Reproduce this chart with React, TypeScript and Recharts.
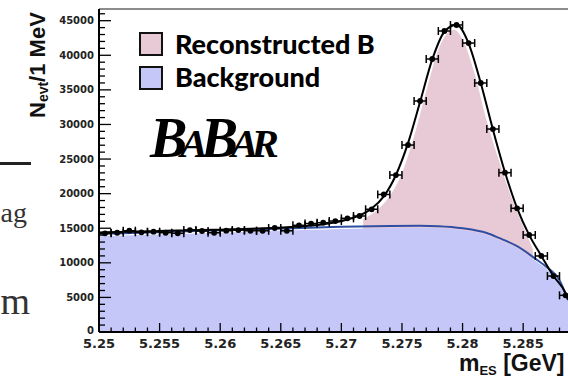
import {
  Area,
  ComposedChart,
  ErrorBar,
  Line,
  ReferenceLine,
  Scatter,
  XAxis,
  YAxis,
} from "recharts";

// m_ES bin centres (1 MeV bins), GeV
const binCentres = [
  5.2505, 5.2515, 5.2525, 5.2535, 5.2545, 5.2555, 5.2565, 5.2575, 5.2585,
  5.2595, 5.2605, 5.2615, 5.2625, 5.2635, 5.2645, 5.2655, 5.2665, 5.2675,
  5.2685, 5.2695, 5.2705, 5.2715, 5.2725, 5.2735, 5.2745, 5.2755, 5.2765,
  5.2775, 5.2785, 5.2795, 5.2805, 5.2815, 5.2825, 5.2835, 5.2845, 5.2855,
  5.2865, 5.2875, 5.2885,
];
// data points, events / 1 MeV
const eventCounts = [
  14270, 14350, 14640, 14410, 14500, 14350, 14270, 14740, 14600, 14350,
  14640, 14740, 14630, 14630, 15030, 14630, 15420, 15680, 15800, 16040,
  16430, 16770, 17740, 19880, 22690, 27030, 33390, 39460, 43510, 44380,
  41770, 35990, 29340, 23030, 17880, 14020, 10990, 8090, 5300,
];

// total fit (black curve)
const totalFitMass = [5.25, ...binCentres, 5.2887];
const totalFitValues = [
  14400, 14420, 14460, 14500, 14540, 14580, 14620, 14660, 14700, 14740,
  14780, 14820, 14870, 14920, 14980, 15050, 15140, 15250, 15390, 15580,
  15850, 16250, 16850, 17850, 19600, 22700, 27300, 33300, 39400, 43400,
  44400, 41700, 36000, 29300, 23100, 17900, 14000, 11000, 8100, 5600, 4700,
];

// background fit (blue curve)
const bgFitMass = [
  5.25, 5.254, 5.258, 5.262, 5.266, 5.27, 5.274, 5.2765, 5.278, 5.28, 5.282,
  5.283, 5.2845, 5.286, 5.287, 5.288, 5.2887,
];
const bgFitValues = [
  14170, 14390, 14590, 14770, 15010, 15200, 15330, 15360, 15300, 15000, 14300,
  13600, 12400, 10600, 9300, 7500, 4600,
];
// background MC histogram (blue fill)
const bgHistValues = [
  13850, 14050, 14250, 14450, 14700, 14900, 15050, 15080, 15020, 14700, 14000,
  13300, 12100, 10300, 9000, 7200, 4400,
];

// reconstructed B MC histogram (pink fill)
const sigHistMass = [
  5.2718, 5.273, 5.274, 5.275, 5.276, 5.277, 5.278, 5.2788, 5.2793, 5.28,
  5.281, 5.282, 5.283, 5.284, 5.285, 5.2858,
];
const sigHistValues = [
  16300, 17700, 19700, 23000, 28300, 34800, 40800, 43300, 43700, 42300, 37300,
  30500, 24800, 19600, 15300, 12000,
];

const xMajorTicks = [5.25, 5.255, 5.26, 5.265, 5.27, 5.275, 5.28, 5.285];
const yMajorTicks = [
  0, 5000, 10000, 15000, 20000, 25000, 30000, 35000, 40000, 45000,
];

const X_MIN = 5.25;
const X_MAX = 5.2887;
const Y_MAX = 46690;

const xTicks: number[] = [];
xMajorTicks.forEach((t) => {
  for (let i = 0; i < 5; i++) {
    const v = Math.round((t + i * 0.001) * 10000) / 10000;
    if (v <= X_MAX) xTicks.push(v);
  }
});
const yTicks: number[] = [];
for (let v = 0; v <= Y_MAX; v += 1000) yTicks.push(v);

const points = binCentres.map((x, i) => ({ x, y: eventCounts[i], xerr: 0.0005 }));
const totalFit = totalFitMass.map((x, i) => ({ x, y: totalFitValues[i] }));
const bgFit = bgFitMass.map((x, i) => ({ x, y: bgFitValues[i] }));
const bgHist = bgFitMass.map((x, i) => ({ x, y: bgHistValues[i] }));
const sigHist = sigHistMass.map((x, i) => ({ x, y: sigHistValues[i] }));

const PINK = "#e8cad6";
const BLUE = "#c5c7f9";
const tickFont = "DejaVu Sans";

function XTick(props: any) {
  const { x, y, payload } = props;
  const label = xMajorTicks.find((t) => Math.abs(t - payload.value) < 1e-7);
  const major = label !== undefined;
  return (
    <g>
      <line x1={x} x2={x} y1={y} y2={y - (major ? 9 : 4.5)} stroke="#000" strokeWidth={1.3} />
      {major && (
        <text x={x} y={y + 16} textAnchor="middle" fontFamily={tickFont} fontWeight="bold" fontSize={13} fill="#222">
          {String(label)}
        </text>
      )}
    </g>
  );
}

function YTick(props: any) {
  const { x, y, payload } = props;
  const major = yMajorTicks.includes(payload.value);
  return (
    <g>
      <line x1={x} x2={x + (major ? 12 : 6)} y1={y} y2={y} stroke="#000" strokeWidth={1.3} />
      {major && (
        <text x={x - 5} y={y + (payload.value === 0 ? 2 : 3.6)} textAnchor="end" fontFamily={tickFont} fontWeight="bold" fontSize={10} fill="#222">
          {payload.value}
        </text>
      )}
    </g>
  );
}

export default function App() {
  return (
    <div style={{ position: "absolute", left: 0, top: 0, width: 568, height: 377, background: "#fff", overflow: "hidden" }}>
      <ComposedChart width={568} height={377} margin={{ top: 9, right: 0, bottom: 0, left: 0 }}>
        <XAxis
          type="number"
          dataKey="x"
          domain={[X_MIN, X_MAX]}
          allowDataOverflow
          ticks={xTicks}
          interval={0}
          tick={<XTick />}
          tickSize={0}
          tickMargin={0}
          tickLine={false}
          axisLine={{ stroke: "#000", strokeWidth: 2 }}
          height={45}
        />
        <YAxis
          type="number"
          domain={[0, Y_MAX]}
          allowDataOverflow
          ticks={yTicks}
          interval={0}
          tick={<YTick />}
          tickSize={0}
          tickMargin={0}
          tickLine={false}
          axisLine={{ stroke: "#000", strokeWidth: 2 }}
          width={99}
        />
        <ReferenceLine y={Y_MAX} stroke="#8c8c8c" strokeWidth={2} />
        <Area data={sigHist} dataKey="y" type="monotone" fill={PINK} fillOpacity={1} stroke="none" isAnimationActive={false} />
        <Area data={bgHist} dataKey="y" type="monotone" fill={BLUE} fillOpacity={1} stroke="none" isAnimationActive={false} />
        <Line data={bgFit} dataKey="y" type="monotone" stroke="#2f4fa5" strokeWidth={2} dot={false} isAnimationActive={false} />
        <Line data={totalFit} dataKey="y" type="monotone" stroke="#000" strokeWidth={2} dot={false} isAnimationActive={false} />
        <Scatter
          data={points}
          dataKey="y"
          fill="#000"
          isAnimationActive={false}
          shape={(p: any) => <circle cx={p.cx} cy={p.cy} r={2.9} fill="#000" />}
        >
          <ErrorBar dataKey="xerr" direction="x" width={4} stroke="#000" strokeWidth={1.5} isAnimationActive={false} />
        </Scatter>
      </ComposedChart>

      <svg width={568} height={377} style={{ position: "absolute", left: 0, top: 0, pointerEvents: "none" }}>
        {/* slide text cut at the left */}
        <rect x={0} y={162} width={31} height={3} fill="#222" />
        <text x={27} y={222} textAnchor="end" fontFamily="Liberation Serif" fontSize={28} fill="#333">ag</text>
        <text x={30} y={314} textAnchor="end" fontFamily="Liberation Serif" fontSize={38} fill="#333">m</text>

        {/* legend */}
        <rect x={140} y={33} width={22} height={22} fill={PINK} stroke="#111" strokeWidth={2} />
        <rect x={140} y={67} width={22} height={22} fill={BLUE} stroke="#111" strokeWidth={2} />
        <text x={175} y={54} fontFamily="Lato" fontWeight={900} fontSize={27} fill="#000">Reconstructed B</text>
        <text x={175} y={87} fontFamily="Lato" fontWeight={900} fontSize={27} fill="#000">Background</text>

        {/* experiment logo */}
        <text x={150} y={157} fontFamily="Liberation Serif" fontStyle="italic" fontWeight="bold" fontSize={56} letterSpacing={-7} fill="#000">
          B<tspan fontSize={41}>A</tspan>B<tspan fontSize={41}>AR</tspan>
        </text>

        {/* axis titles */}
        <text transform="translate(45,118) rotate(-90)" fontFamily="Liberation Sans" fontWeight="bold" fontSize={22} fill="#111">
          N<tspan fontSize={14} dy={3}>evt</tspan>
          <tspan dy={-3}>/1 MeV</tspan>
        </text>
        <text x={459} y={371} fontFamily="Liberation Sans" fontWeight="bold" fontSize={23} fill="#111">
          m<tspan fontSize={13} dy={4}>ES</tspan>
          <tspan dy={-4}> [GeV]</tspan>
        </text>
      </svg>
    </div>
  );
}
